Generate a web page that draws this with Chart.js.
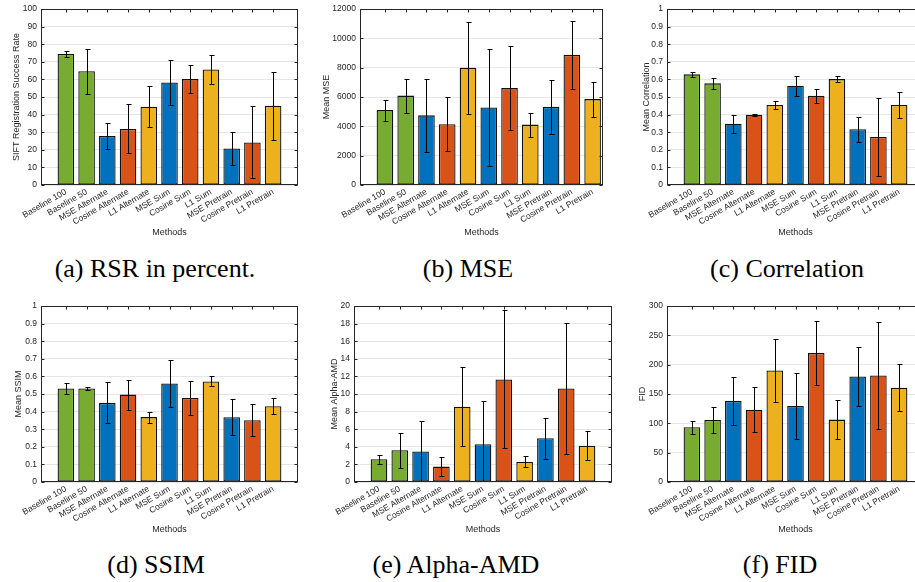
<!DOCTYPE html>
<html>
<head>
<meta charset="utf-8">
<script src="https://cdn.jsdelivr.net/npm/chart.js@4.4.0/dist/chart.umd.min.js"></script>
<style>
	body { margin: 0; width: 915px; height: 582px; overflow: hidden; background: #fff; position: relative; }
	.panel { position: absolute; }
	.caption { position: absolute; font-family: "Liberation Serif", serif; font-size: 26px; color: #000; transform: translate(-50%, -50%); white-space: nowrap; line-height: 1; }
</style>
</head>
<body>
<script>
const methods = ["Baseline 100", "Baseline 50", "MSE Alternate", "Cosine Alternate", "L1 Alternate", "MSE Sum", "Cosine Sum", "L1 Sum", "MSE Pretrain", "Cosine Pretrain", "L1 Pretrain"];

// mean and std (error bar half length) per method
const rsrMean = [74.5, 64.7, 27.9, 31.9, 44.5, 58.3, 60.2, 65.7, 20.8, 24.2, 45.1];
const rsrErr = [1.9, 12.7, 7.4, 13.9, 11.7, 13.0, 8.1, 8.3, 9.6, 20.5, 19.4];
const mseMean = [5110, 6100, 4750, 4140, 8000, 5290, 6610, 4120, 5330, 8880, 5860];
const mseErr = [710, 1165, 2510, 1830, 3150, 3990, 2840, 825, 1820, 2300, 1200];
const corrMean = [0.629, 0.578, 0.348, 0.4, 0.455, 0.564, 0.507, 0.602, 0.317, 0.273, 0.455];
const corrErr = [0.013, 0.032, 0.05, 0.006, 0.025, 0.057, 0.041, 0.016, 0.072, 0.222, 0.075];
const ssimMean = [0.532, 0.532, 0.45, 0.497, 0.369, 0.56, 0.478, 0.572, 0.368, 0.351, 0.431];
const ssimErr = [0.032, 0.008, 0.116, 0.085, 0.031, 0.135, 0.097, 0.028, 0.102, 0.091, 0.045];
const amdMean = [2.58, 3.62, 3.47, 1.75, 8.57, 4.3, 11.66, 2.28, 4.98, 10.64, 4.11];
const amdErr = [0.5, 2.0, 3.5, 1.04, 4.5, 4.9, 7.85, 0.62, 2.32, 7.47, 1.66];
const fidMean = [93.4, 105.8, 138.1, 123.4, 190.2, 129.6, 220.2, 106.4, 180.0, 181.7, 160.8];
const fidErr = [11, 21.5, 40.5, 38, 53, 55.5, 55, 33.4, 50.7, 92, 40];

const GREEN = "#77AC30";
const BLUE = "#0072BD";
const ORANGE = "#D95319";
const YELLOW = "#EDB120";
const barColors = [GREEN, GREEN, BLUE, ORANGE, YELLOW, BLUE, ORANGE, YELLOW, BLUE, ORANGE, YELLOW];
const TEXT = "#262626";
const FONT = "'Liberation Sans', Arial, sans-serif";

const PAD_TOP = 8;
const PAD_RIGHT = 8;
const Y_AXIS_W = 40;
const X_AXIS_H = 55;
const PLOT_H = 177;

const panels = [
	{ mean: rsrMean, err: rsrErr, yTitle: "SIFT Registration Success Rate", max: 100, step: 10, left: 41, top: 8, width: 257, xMax: 11.2, titlePad: 10, caption: "(a) RSR in percent.", capX: 155, capY: 269 },
	{ mean: mseMean, err: mseErr, yTitle: "Mean MSE", max: 12000, step: 2000, left: 360, top: 8, width: 243, xMax: 10.5, titlePad: 1.3, caption: "(b) MSE", capX: 468, capY: 269 },
	{ mean: corrMean, err: corrErr, yTitle: "Mean Correlation", max: 1, step: 0.1, left: 667, top: 8, width: 257, xMax: 11.2, titlePad: 14.3, caption: "(c) Correlation", capX: 787, capY: 269 },
	{ mean: ssimMean, err: ssimErr, yTitle: "Mean SSIM", max: 1, step: 0.1, left: 41, top: 305, width: 257, xMax: 11.2, titlePad: 11.9, caption: "(d) SSIM", capX: 156, capY: 565 },
	{ mean: amdMean, err: amdErr, yTitle: "Mean Alpha-AMD", max: 20, step: 2, left: 354, top: 305, width: 258, xMax: 11.2, titlePad: 14.9, caption: "(e) Alpha-AMD", capX: 456, capY: 565 },
	{ mean: fidMean, err: fidErr, yTitle: "FID", max: 300, step: 50, left: 667, top: 305, width: 257, xMax: 11.2, titlePad: 9.9, caption: "(f) FID", capX: 780, capY: 565 },
];

// matlab style error bars, drawn on top of the bars
const errorBars = {
	id: "errorBars",
	afterDatasetsDraw: (chart) => {
		const { ctx, chartArea: a, scales: { x, y } } = chart;
		const ds = chart.data.datasets[0];
		ctx.save();
		ctx.beginPath();
		ctx.rect(a.left, a.top, a.width, a.height);
		ctx.clip();
		ctx.strokeStyle = "#000";
		ctx.lineWidth = 1;
		ds.data.forEach((pt, i) => {
			const px = Math.round(x.getPixelForValue(pt.x)) + 0.5;
			const hi = Math.round(y.getPixelForValue(pt.y + ds.errors[i])) + 0.5;
			const lo = Math.round(y.getPixelForValue(pt.y - ds.errors[i])) + 0.5;
			ctx.beginPath();
			ctx.moveTo(px, hi);
			ctx.lineTo(px, lo);
			ctx.moveTo(px - 2, hi);
			ctx.lineTo(px + 3, hi);
			ctx.moveTo(px - 2, lo);
			ctx.lineTo(px + 3, lo);
			ctx.stroke();
		});
		ctx.restore();
	},
};

// box around the axes with inward ticks
const axesBox = {
	id: "axesBox",
	afterDraw: (chart) => {
		const { ctx, chartArea: a, scales: { x, y } } = chart;
		const l = Math.round(a.left) + 0.5;
		const r = Math.round(a.right) - 0.5;
		const t = Math.round(a.top) + 0.5;
		const b = Math.round(a.bottom) - 0.5;
		ctx.save();
		ctx.strokeStyle = TEXT;
		ctx.lineWidth = 1;
		ctx.beginPath();
		y.ticks.forEach((tk) => {
			const py = Math.round(y.getPixelForValue(tk.value)) + 0.5;
			ctx.moveTo(l, py);
			ctx.lineTo(l + 3, py);
			ctx.moveTo(r, py);
			ctx.lineTo(r - 3, py);
		});
		x.ticks.forEach((tk) => {
			const px = Math.round(x.getPixelForValue(tk.value)) + 0.5;
			ctx.moveTo(px, t);
			ctx.lineTo(px, t + 3);
		});
		ctx.stroke();
		ctx.strokeRect(l, t, r - l, b - t);
		ctx.restore();
	},
};

const makePanel = (p) => {
	const cw = Y_AXIS_W + p.width + PAD_RIGHT;
	const ch = PAD_TOP + PLOT_H + X_AXIS_H;
	const wrap = document.createElement("div");
	wrap.className = "panel";
	wrap.style.left = p.left - Y_AXIS_W + "px";
	wrap.style.top = p.top - PAD_TOP + "px";
	const canvas = document.createElement("canvas");
	canvas.width = cw;
	canvas.height = ch;
	canvas.style.width = cw + "px";
	canvas.style.height = ch + "px";
	wrap.append(canvas);
	document.body.append(wrap);

	const cap = document.createElement("div");
	cap.className = "caption";
	cap.innerText = p.caption;
	cap.style.left = p.capX + "px";
	cap.style.top = p.capY + "px";
	document.body.append(cap);

	new Chart(canvas, {
		type: "bar",
		data: {
			datasets: [
				{
					data: p.mean.map((v, i) => ({ x: i, y: v })),
					errors: p.err,
					backgroundColor: barColors,
					borderColor: "#111",
					borderWidth: 1.3,
					borderSkipped: false,
					barPercentage: 0.8,
					categoryPercentage: 1,
				},
			],
		},
		options: {
			responsive: false,
			animation: false,
			devicePixelRatio: 1,
			layout: { padding: { top: PAD_TOP, right: PAD_RIGHT, left: 0, bottom: 0 } },
			plugins: { legend: { display: false }, tooltip: { enabled: false } },
			scales: {
				x: {
					type: "linear",
					min: -1.2,
					max: p.xMax,
					offset: false,
					grid: { display: false, drawTicks: false },
					border: { display: false },
					afterBuildTicks: (s) => {
						s.ticks = methods.map((m, i) => ({ value: i }));
					},
					afterFit: (s) => {
						s.height = X_AXIS_H;
					},
					ticks: {
						autoSkip: false,
						maxRotation: 30,
						minRotation: 30,
						padding: 2,
						color: TEXT,
						font: { family: FONT, size: 8.5 },
						callback: (v) => methods[v],
					},
					title: { display: true, text: "Methods", color: TEXT, font: { family: FONT, size: 9 }, padding: { top: 0, bottom: 2.3 } },
				},
				y: {
					min: 0,
					max: p.max,
					grid: { color: "#e6e6e6", drawTicks: false },
					border: { display: false },
					afterFit: (s) => {
						s.width = Y_AXIS_W;
					},
					ticks: {
						stepSize: p.step,
						padding: 4,
						color: TEXT,
						font: { family: FONT, size: 8.5 },
						callback: (v) => String(Math.round(v * 1000) / 1000),
					},
					title: { display: true, text: p.yTitle, color: TEXT, font: { family: FONT, size: 9 }, padding: { top: p.titlePad, bottom: 0 } },
				},
			},
		},
		plugins: [errorBars, axesBox],
	});
};

panels.forEach(makePanel);
</script>
</body>
</html>
